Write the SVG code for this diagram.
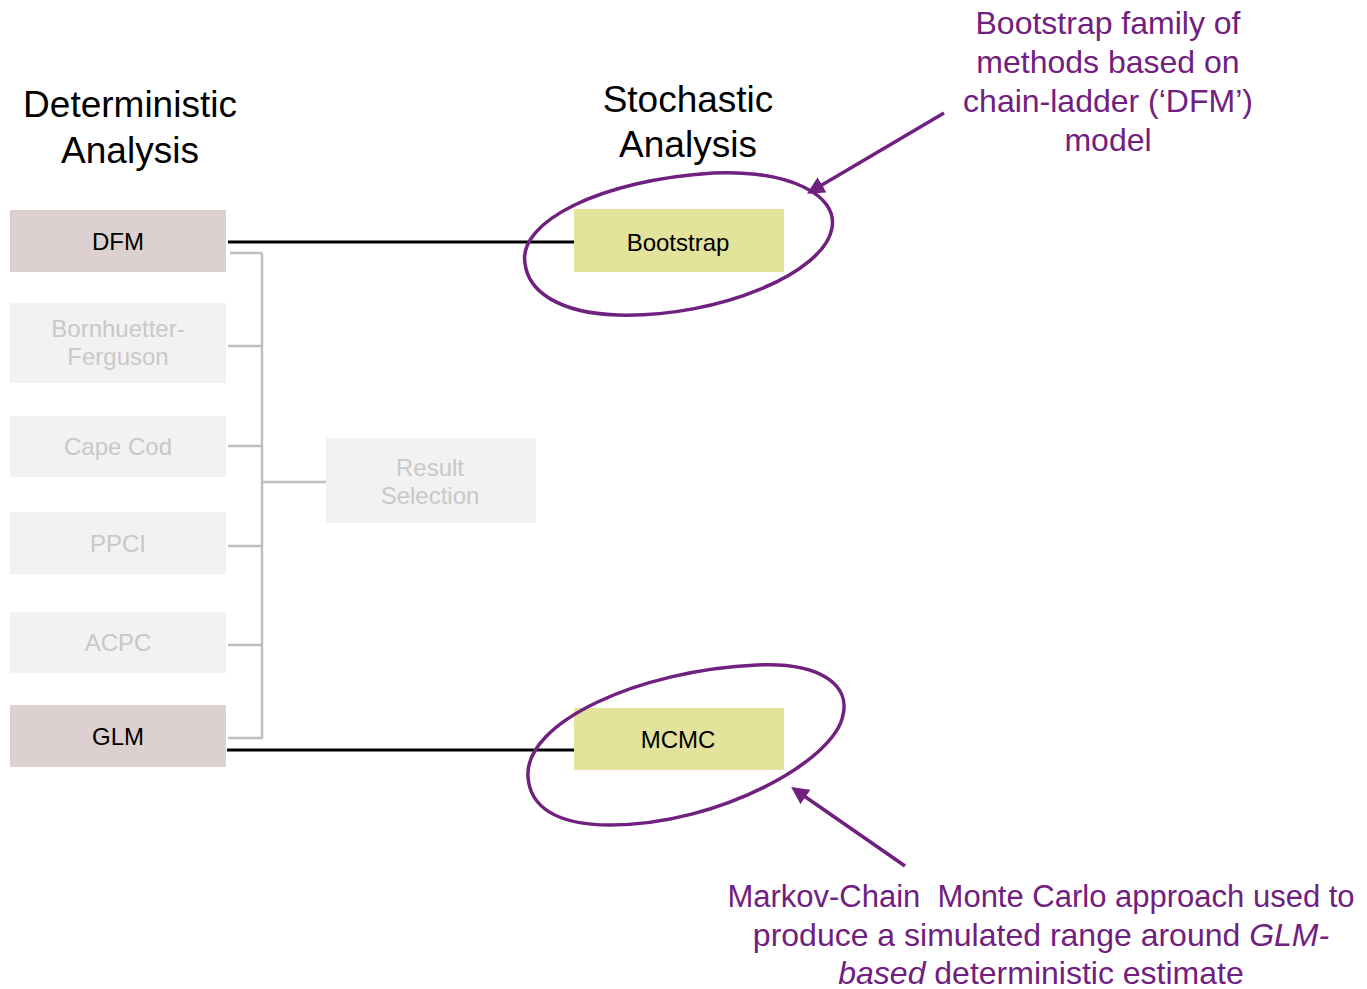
<svg xmlns="http://www.w3.org/2000/svg" width="1367" height="989" viewBox="0 0 1367 989">
<defs>
<style>
text{font-family:"Liberation Sans",Arial,sans-serif}
.title{font-size:37px;fill:#000;text-anchor:middle}
.lbl{font-size:24px;fill:#000;text-anchor:middle}
.glbl{font-size:24px;fill:#c8c8c8;text-anchor:middle}
.note{font-size:32px;fill:#70207f;text-anchor:middle}
.note.sm{font-size:31px}
.det{fill:#ddd0d0}
.grey{fill:#f2f2f2}
.sto{fill:#e3e39b}
.gl{stroke:#bfbfbf;stroke-width:2.5;fill:none}
.bl{stroke:#000;stroke-width:3;fill:none}
.ring{stroke:#70207f;stroke-width:3.5;fill:none}
.arr{stroke:#70207f;stroke-width:3.5;fill:none}
</style>
<marker id="ah" viewBox="0 0 10 10" refX="8" refY="5" markerWidth="5" markerHeight="5" orient="auto" markerUnits="strokeWidth">
<path d="M0,0 L10,5 L0,10 z" fill="#70207f"/>
</marker>
</defs>
<rect width="1367" height="989" fill="#fff"/>
<text class="title" x="130" y="117">Deterministic</text>
<text class="title" x="130" y="163">Analysis</text>
<text class="title" x="688" y="112">Stochastic</text>
<text class="title" x="688" y="157">Analysis</text>
<g id="connectors">
<path class="gl" d="M230 253 H262 M228 346 H262 M228 446 H262 M228 546 H262 M228 645 H262 M228 738 H262 M262 253 V739 M262 482 H326"/>
<path class="bl" d="M228 242 H574"/>
<path class="bl" d="M227 750 H574"/>
<path class="arr" d="M944 113 L810 192" marker-end="url(#ah)"/>
<path class="arr" d="M905 866 L794 789" marker-end="url(#ah)"/>
</g>
<g id="dfm"><rect class="det" x="10" y="210" width="216" height="62"/><text class="lbl" x="118" y="250">DFM</text></g>
<g id="bf"><rect class="grey" x="10" y="303" width="216" height="80"/><text class="glbl" x="118" y="337">Bornhuetter-</text><text class="glbl" x="118" y="365">Ferguson</text></g>
<g id="capecod"><rect class="grey" x="10" y="416" width="216" height="61"/><text class="glbl" x="118" y="455">Cape Cod</text></g>
<g id="ppci"><rect class="grey" x="10" y="512" width="216" height="62"/><text class="glbl" x="118" y="552">PPCI</text></g>
<g id="acpc"><rect class="grey" x="10" y="612" width="216" height="61"/><text class="glbl" x="118" y="651">ACPC</text></g>
<g id="glm"><rect class="det" x="10" y="705" width="216" height="62"/><text class="lbl" x="118" y="745">GLM</text></g>
<g id="result"><rect class="grey" x="326" y="438" width="210" height="85"/><text class="glbl" x="430" y="476">Result</text><text class="glbl" x="430" y="504">Selection</text></g>
<g id="bootstrap"><rect class="sto" x="574" y="209" width="210" height="63"/><text class="lbl" x="678" y="251">Bootstrap</text></g>
<g id="mcmc"><rect class="sto" x="574" y="708" width="210" height="62"/><text class="lbl" x="678" y="748">MCMC</text></g>
<g id="ring1"><path class="ring" d="M525 263 C518 222,600 180,713 173 C790 170,838 195,832 228 C825 272,720 318,617 315 C560 313,528 292,525 263 Z"/></g>
<g id="ring2"><path class="ring" d="M528 777 C524 722,640 670,757 665 C822 662,850 686,843 715 C835 760,720 825,610 825 C555 825,530 806,528 777 Z"/></g>
<g id="note1">
<text class="note" x="1108" y="34">Bootstrap family of</text>
<text class="note" x="1108" y="73">methods based on</text>
<text class="note" x="1108" y="112">chain-ladder (‘DFM’)</text>
<text class="note" x="1108" y="151">model</text>
</g>
<g id="note2">
<text class="note sm" x="1041" y="907">Markov-Chain&#160; Monte Carlo approach used to</text>
<text class="note" x="1041" y="946">produce a simulated range around <tspan font-style="italic">GLM-</tspan></text>
<text class="note" x="1041" y="984"><tspan font-style="italic">based</tspan> deterministic estimate</text>
</g>
</svg>
